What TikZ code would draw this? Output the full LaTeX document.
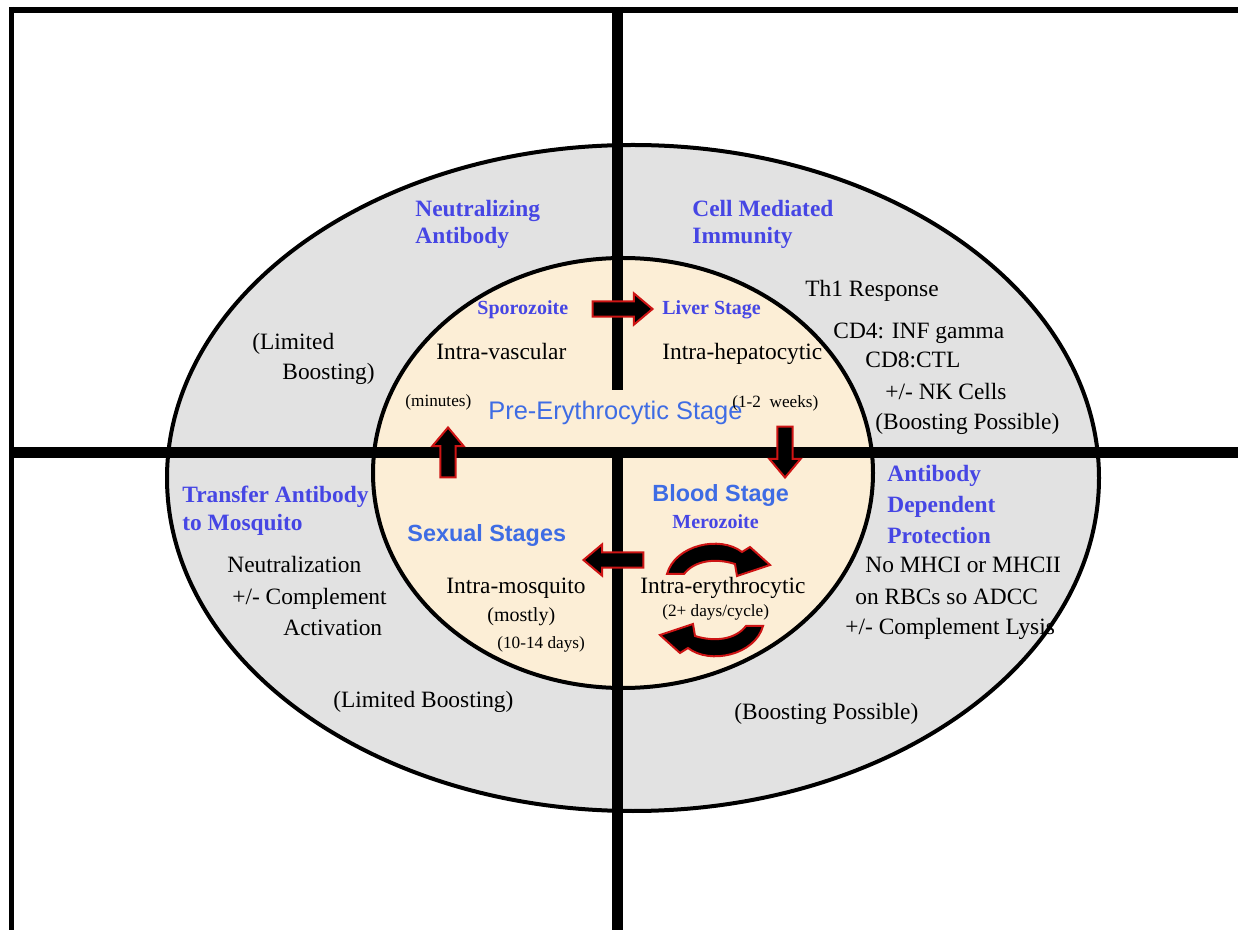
\documentclass[tikz,border=0pt]{standalone}
\usepackage{fontspec}
\setmainfont{Liberation Serif}
\newfontfamily\arialfont{Liberation Sans}
\usepackage{tikz}
\usetikzlibrary{shapes.arrows,positioning}
\definecolor{headblue}{RGB}{70,70,228}
\definecolor{stageblue}{RGB}{62,108,228}
\definecolor{arrowred}{RGB}{205,20,20}
\definecolor{outergray}{RGB}{226,226,226}
\definecolor{innerbeige}{RGB}{252,238,214}

\begin{document}
\begin{tikzpicture}[x=0.5pt, y=-0.5pt,
   txt/.style={anchor=base west, inner sep=0pt, font=\fontsize{11.7}{14}\selectfont},
   small/.style={anchor=base west, inner sep=0pt, font=\fontsize{8.6}{10}\selectfont},
   head/.style={anchor=base west, inner sep=0pt, text=headblue, font=\bfseries\fontsize{11.7}{14}\selectfont},
   tag/.style={anchor=base west, inner sep=0pt, text=headblue, font=\bfseries\fontsize{10}{12}\selectfont},
   stage/.style={anchor=base west, inner sep=0pt, text=stageblue, font=\arialfont\bfseries\fontsize{11.7}{14}\selectfont},
   blockarrow/.style={single arrow, draw=arrowred, fill=black, line width=1pt, inner sep=3.3pt,
      single arrow head extend=4pt, single arrow tip angle=80, minimum height=30pt},
   cyclearrow/.style={draw=arrowred, fill=black, line width=1pt}]
   \path[use as bounding box, fill=white] (0,0) rectangle (1238,930);
   % the two zones
   \draw[line width=2pt, fill=outergray] (633,478) ellipse [x radius=466, y radius=333];
   \draw[line width=2pt, fill=innerbeige] (623,473) ellipse [x radius=250, y radius=215];
   % frame and quadrant lines
   \draw[line width=3pt] (9,10) -- (1238,10);
   \draw[line width=2.5pt] (11.5,7) -- (11.5,930);
   \draw[line width=5.5pt] (9,453) -- (1238,453);
   \draw[line width=5.5pt] (617.5,7) -- (617.5,390);
   \draw[line width=5.5pt] (617.5,453) -- (617.5,930);
   % stage arrows
   \node[blockarrow] (toliver) at (618,309) {};
   \node[blockarrow, rotate=-90, minimum height=25.5pt] (toblood) at (785,447.5) {};
   \node[blockarrow, rotate=90, minimum height=25pt] (tosporo) at (448,457) {};
   \node[blockarrow, rotate=180] (tosexual) at (618,560) {};
   \foreach \r in {0,180}
    \draw[cyclearrow, rotate around={\r:(715,600)}] (667,574)
       .. controls (675,545) and (720,535) .. (742,552) -- (750,547) -- (770,565)
       -- (737,576) -- (735,564) .. controls (716,558) and (695,560) .. (684,574) -- cycle;
   % upper left
   \node[head] (neutA) at (415,217) {Neutralizing};
   \node[head] (neutB) at (415,244) {Antibody};
   \node[txt] (limA) at (252,350) {(Limited};
   \node[txt] (limB) at (282,380) {Boosting)};
   \node[tag] (sporo) at (477,315) {Sporozoite};
   \node[txt] (vasc) at (436,360) {Intra-vascular};
   \node[small] (minutes) at (405,407) {(minutes)};
   \node[anchor=base west, inner sep=0pt, text=stageblue, font=\arialfont\fontsize{12.7}{15}\selectfont]
      (preery) at (488,420) {Pre-Erythrocytic Stage};
   % upper right
   \node[head] (cellA) at (692,217) {Cell Mediated};
   \node[head] (cellB) at (692,244) {Immunity};
   \node[tag] (liver) at (662,315) {Liver Stage};
   \node[txt] (hepa) at (662,360) {Intra-hepatocytic};
   \node[small] (weeks) at (732,408) {(1-2\ \ weeks)};
   \node[txt] (th1) at (805,297) {Th1 Response};
   \node[txt] (cd4) at (833,339) {CD4: INF gamma};
   \node[txt] (cd8) at (865,368) {CD8:CTL};
   \node[txt] (nk) at (885,400) {+/- NK Cells};
   \node[txt] (boostA) at (875,430) {(Boosting Possible)};
   % lower left
   \node[head] (transA) at (182,503) {Transfer Antibody};
   \node[head] (transB) at (182,531) {to Mosquito};
   \node[txt] (neutr) at (227,573) {Neutralization};
   \node[txt] (compl) at (232,605) {+/- Complement};
   \node[txt] (activ) at (283,636) {Activation};
   \node[txt] (limC) at (333,707) {(Limited Boosting)};
   \node[stage] (sexual) at (407,542) {Sexual Stages};
   \node[txt] (mosq) at (446,594) {Intra-mosquito};
   \node[anchor=base west, inner sep=0pt, font=\fontsize{10}{12}\selectfont] (mostly) at (487,622) {(mostly)};
   \node[small] (days) at (497,648) {(10-14 days)};
   % lower right
   \node[stage] (blood) at (652,502) {Blood Stage};
   \node[tag] (mero) at (672,529) {Merozoite};
   \node[txt] (eryth) at (640,594) {Intra-erythrocytic};
   \node[small] (cycle) at (662,617) {(2+ days/cycle)};
   \node[head] (abA) at (887,482) {Antibody};
   \node[head] (abB) at (887,513) {Dependent};
   \node[head] (abC) at (887,544) {Protection};
   \node[txt] (mhc) at (865,573) {No MHCI or MHCII};
   \node[txt] (rbc) at (855,605) {on RBCs so ADCC};
   \node[txt] (lysis) at (845,635) {+/- Complement Lysis};
   \node[txt] (boostB) at (734,719) {(Boosting Possible)};
\end{tikzpicture}
\end{document}
